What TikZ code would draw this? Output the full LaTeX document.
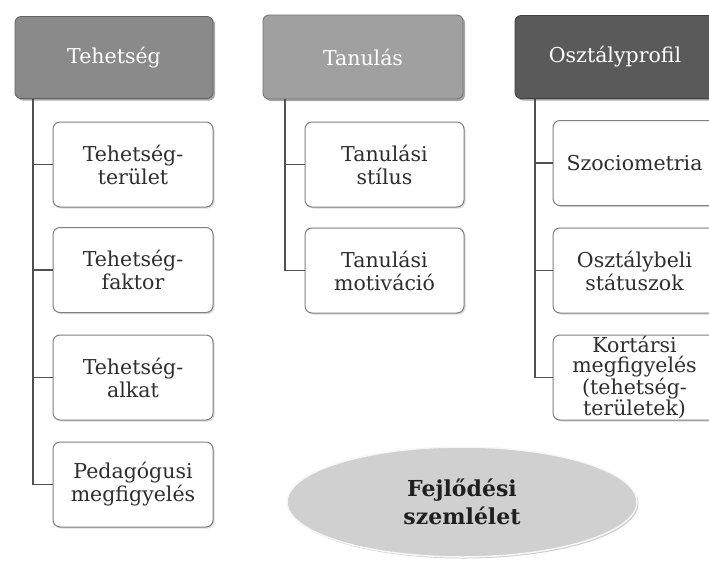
\documentclass[tikz,border=0pt]{standalone}
\usepackage{fontspec}
\setmainfont{DejaVu Serif}
\usetikzlibrary{shadows,shapes.geometric}
\definecolor{hA}{HTML}{8A8A8A}
\definecolor{hB}{HTML}{A0A0A0}
\definecolor{hC}{HTML}{5A5A5A}
\definecolor{edgec}{HTML}{808080}
\definecolor{txt}{HTML}{2E2E2E}
\definecolor{connc}{HTML}{505050}
\definecolor{ellc}{HTML}{D0D0D0}
\tikzset{
 head/.style={rectangle, rounded corners=6pt, draw=#1!70!black, fill=#1, line width=0.8pt,
   minimum width=198pt, minimum height=82pt, inner sep=0pt, text=white,
   font=\fontsize{20.5}{23}\selectfont,
   drop shadow={shadow xshift=2pt, shadow yshift=-2pt, opacity=0.35, fill=black}},
 sub/.style={rectangle, rounded corners=7pt, draw=edgec, fill=white, line width=1pt,
   minimum width=160pt, minimum height=85pt, inner sep=0pt, text=txt, align=center,
   font=\fontsize{20.5}{23}\selectfont,
   drop shadow={shadow xshift=1.5pt, shadow yshift=-1.5pt, opacity=0.15, fill=black}},
 link/.style={draw=connc, line width=1.4pt},
}
\begin{document}
\begin{tikzpicture}[x=1pt,y=-1pt]
\useasboundingbox (0,0) rectangle (709,560);
\clip (0,0) rectangle (709,560);
% headers
\node[head=hA] (th) at (114,57.5) {Tehetség};
\node[head=hB, minimum width=200pt, minimum height=84pt] (tn) at (363,57) {Tanulás};
\node[head=hC, minimum width=200pt, minimum height=83pt] (op) at (615,57) {Osztályprofil};
% left column
\node[sub] (t1) at (133,164.5) {Tehetség-\\terület};
\node[sub] (t2) at (133,270) {Tehetség-\\faktor};
\node[sub] (t3) at (133,377.5) {Tehetség-\\alkat};
\node[sub] (t4) at (133,484.5) {Pedagógusi\\megfigyelés};
% middle column
\node[sub, minimum width=159pt] (m1) at (384.5,164.5) {Tanulási\\stílus};
\node[sub, minimum width=159pt] (m2) at (384.5,270.5) {Tanulási\\motiváció};
% right column
\node[sub, minimum width=163pt] (r1) at (634.5,163) {Szociometria};
\node[sub, minimum width=163pt] (r2) at (634.5,270.5) {Osztálybeli\\státuszok};
\node[sub, minimum width=163pt, font=\fontsize{20.5}{19.5}\selectfont] (r3) at (634.5,377.5) {Kortársi\\megfigyelés\\(tehetség-\\területek)};
% connectors
\coordinate (sA) at (33,0);
\coordinate (sB) at (285,0);
\coordinate (sC) at (535,0);
\draw[link] (sA |- th.south) |- (t4.west);
\foreach \n in {t1,t2,t3} \draw[link] (sA |- \n.west) -- (\n.west);
\draw[link] (sB |- tn.south) |- (m2.west);
\draw[link] (sB |- m1.west) -- (m1.west);
\draw[link] (sC |- op.south) |- (r3.west);
\foreach \n in {r1,r2} \draw[link] (sC |- \n.west) -- (\n.west);
% ellipse
\node[ellipse, fill=ellc, draw=white!80!ellc, line width=1.5pt, minimum width=350pt,
  minimum height=110pt, inner sep=0pt, align=center, text=black!88,
  drop shadow={shadow xshift=1.5pt, shadow yshift=-1.5pt, opacity=0.2, fill=black},
  font=\bfseries\fontsize{22}{28}\selectfont] (fs) at (462,502) {Fejlődési\\szemlélet};
\end{tikzpicture}
\end{document}
